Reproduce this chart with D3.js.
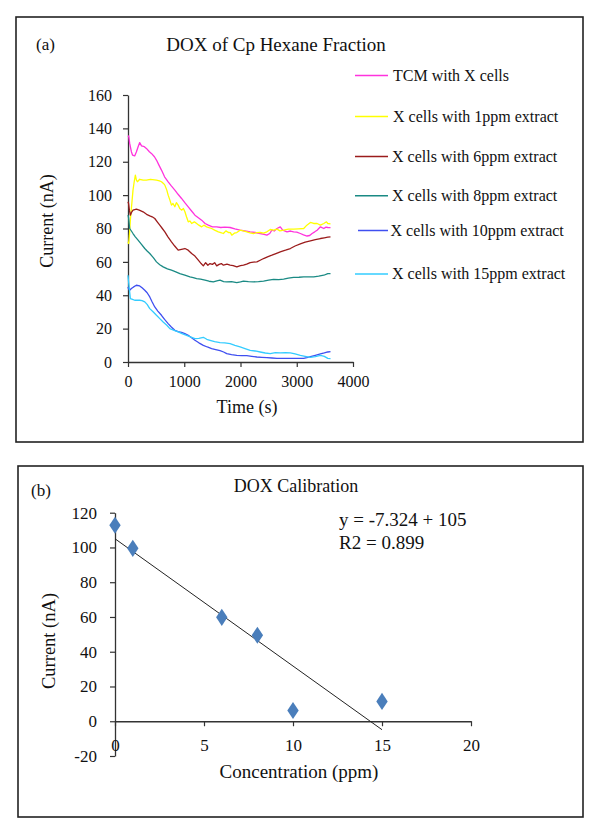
<!DOCTYPE html>
<html>
<head>
<meta charset="utf-8">
<script src="https://cdn.jsdelivr.net/npm/d3@7/dist/d3.min.js"></script>
<style>
  html, body { margin: 0; padding: 0; background: #fff; }
  svg { display: block; font-family: "Liberation Serif", "Times New Roman", serif; }
  svg text { font-family: "Liberation Serif", "Times New Roman", serif; }
</style>
</head>
<body>
<svg id="chart" width="600" height="840"></svg>
<script>
// ---------- Panel (a) data: time (s) and current (nA) ----------
const seriesNames = [
  "TCM with X cells",
  "X cells with 1ppm extract",
  "X cells with 6ppm extract",
  "X cells with 8ppm extract",
  "X cells with 10ppm extract",
  "X cells with 15ppm extract"
];
const seriesColors = ["#ff33dd", "#ffff00", "#9b1c1c", "#1a8a84", "#3f4ff0", "#33ccff"];

const timeTCM = [0, 12, 30, 60, 80, 119, 150, 180, 208, 240, 290, 327, 380, 416, 470, 506, 550, 595, 650, 714, 770, 833, 890, 952, 1010, 1071, 1130, 1190, 1250, 1309, 1370, 1428, 1500, 1577, 1650, 1720, 1815, 1900, 1993, 2080, 2172, 2260, 2350, 2420, 2469, 2520, 2558, 2600, 2648, 2707, 2750, 2826, 2890, 2945, 3000, 3064, 3120, 3183, 3230, 3273, 3320, 3362, 3421, 3481, 3520, 3552, 3600];
const currentTCM = [135, 135.5, 131, 126, 124, 123.5, 126, 129, 131.5, 129.5, 129, 128, 126, 125, 123, 121, 118, 115, 111, 108, 105.5, 103, 100.5, 98, 95.5, 93, 90.5, 88, 86.5, 85, 83, 82, 81, 81, 80.6, 80.8, 80.6, 79.8, 79, 78.5, 78, 77.6, 77, 76.5, 76, 77, 79, 78.5, 80, 81, 79, 78, 78.5, 78, 77.8, 77, 76.2, 75.5, 75.8, 77, 78, 79, 81, 80, 80.8, 80.6, 80.5];

const time1 = [0, 12, 25, 42, 60, 89, 110, 131, 150, 167, 208, 270, 327, 400, 506, 560, 595, 630, 655, 690, 714, 745, 773, 800, 833, 860, 892, 920, 952, 985, 1012, 1040, 1071, 1100, 1131, 1180, 1220, 1260, 1309, 1350, 1398, 1440, 1487, 1540, 1606, 1650, 1696, 1740, 1785, 1820, 1845, 1890, 1934, 1993, 2050, 2112, 2170, 2231, 2290, 2350, 2410, 2469, 2530, 2588, 2650, 2700, 2767, 2850, 2945, 3030, 3124, 3180, 3243, 3300, 3362, 3420, 3481, 3528, 3552, 3600];
const current1 = [72, 71, 76, 85, 92, 103, 108, 112, 109, 108, 109.5, 109, 109, 109.5, 109, 108.5, 108, 107, 106, 103, 100, 97, 94, 95, 93, 95.5, 94, 92, 91, 92, 90, 87, 84, 84.5, 83, 84, 83, 82, 81, 82, 81, 80.5, 80, 79, 78, 77.5, 77, 78.6, 77.6, 77.5, 76, 77.2, 77.6, 79, 78.6, 78, 77.4, 77, 77.5, 77.6, 77.2, 78, 79.4, 79, 79.6, 78.6, 79, 79.6, 79.6, 79.8, 80, 82, 83.6, 83, 83, 82, 83, 84, 83, 82.8];

const time6 = [0, 10, 25, 42, 60, 89, 149, 200, 268, 330, 387, 430, 476, 520, 565, 610, 655, 710, 773, 830, 892, 950, 1012, 1070, 1131, 1190, 1250, 1300, 1339, 1380, 1420, 1458, 1500, 1540, 1577, 1620, 1660, 1696, 1760, 1815, 1870, 1934, 2000, 2053, 2110, 2172, 2230, 2291, 2350, 2410, 2480, 2558, 2630, 2707, 2800, 2886, 2970, 3064, 3150, 3243, 3330, 3421, 3490, 3552, 3600];
const current6 = [96, 95, 91, 88, 89.5, 91, 91.6, 91, 90, 88.5, 87.6, 87, 86, 84, 82, 80, 78, 75, 72, 69.5, 67, 67.5, 68, 67, 65, 63.5, 61, 59, 57.6, 59.5, 58, 59, 58.5, 59.5, 57.6, 58.5, 59, 58, 58.6, 58, 57.8, 57, 57.8, 58, 58.6, 59.6, 59.8, 60, 61, 62, 63, 64, 65, 66, 67, 68, 69.5, 70.8, 71.8, 72.6, 73.4, 74, 74.4, 74.8, 75];

const time8 = [0, 8, 30, 60, 89, 130, 179, 240, 298, 340, 387, 450, 506, 565, 625, 700, 773, 850, 922, 1010, 1101, 1160, 1220, 1290, 1369, 1440, 1517, 1580, 1636, 1700, 1755, 1840, 1934, 2000, 2053, 2140, 2231, 2320, 2410, 2500, 2588, 2680, 2767, 2850, 2945, 3040, 3124, 3210, 3302, 3390, 3481, 3552, 3600];
const current8 = [88, 87, 80, 78.5, 77, 75, 73, 70.5, 68, 66.5, 65, 62.5, 60, 58.3, 57, 55.8, 55, 54, 53, 52, 51, 50.6, 50, 49.6, 49, 48.4, 48, 48.6, 49, 48.2, 48, 48.2, 47.6, 48, 48.5, 48.2, 48, 48.2, 48.5, 49, 49.5, 49.4, 49.7, 50.2, 50.7, 50.8, 51, 51, 51, 51.4, 52, 53, 53];

const time10 = [0, 8, 30, 60, 100, 149, 208, 250, 298, 340, 387, 430, 476, 530, 595, 650, 714, 770, 833, 890, 952, 1010, 1071, 1130, 1190, 1260, 1339, 1410, 1487, 1560, 1636, 1700, 1755, 1840, 1934, 2020, 2112, 2200, 2291, 2380, 2469, 2560, 2648, 2760, 2886, 3000, 3124, 3180, 3243, 3330, 3421, 3490, 3552, 3600];
const current10 = [45, 44, 43, 44, 45, 46, 45.6, 44.5, 43, 41.5, 39, 36, 33, 30.5, 28, 25.5, 23, 21, 19, 18.2, 17.8, 17, 16, 14.5, 13, 11.5, 10, 9, 8, 7.4, 6.8, 6, 5, 4.4, 4, 3.8, 3.8, 3.4, 3, 2.8, 2.6, 2.4, 2.2, 2.2, 2.2, 2.2, 2.2, 2.6, 3.2, 4, 4.8, 5.4, 6, 6.2];

const time15 = [0, 8, 20, 42, 80, 119, 160, 208, 250, 298, 340, 387, 450, 506, 565, 625, 690, 744, 820, 892, 960, 1041, 1110, 1190, 1260, 1339, 1400, 1458, 1540, 1636, 1720, 1815, 1900, 1993, 2080, 2172, 2260, 2350, 2440, 2529, 2620, 2707, 2800, 2886, 2970, 3064, 3150, 3243, 3330, 3421, 3490, 3552, 3600];
const current15 = [52, 49, 45, 38, 37.5, 37, 37, 37, 36.8, 36, 34.5, 32, 30, 28, 26, 24, 22, 20, 19, 18, 17, 16, 15, 14, 14.2, 14.8, 13.6, 13, 12.2, 11.6, 11.4, 11, 10, 9, 8, 7, 6.6, 6, 5.4, 5, 5.6, 5.5, 5.6, 5.5, 4.8, 4, 3.4, 2.8, 3.2, 4, 3.4, 2.2, 2];

const timeSeries = [timeTCM, time1, time6, time8, time10, time15];
const currentSeries = [currentTCM, current1, current6, current8, current10, current15];

const timeTicks = [0, 1000, 2000, 3000, 4000];
const currentTicksA = [0, 20, 40, 60, 80, 100, 120, 140, 160];

// ---------- Panel (b) data ----------
const concentration = [0, 1, 6, 8, 10, 15];
const calibCurrent = [112.8, 99.5, 59.8, 49.5, 6.2, 11.4];
const trendConc = [0, 15];
const trendCurrent = [105, -4.86];
const concTicks = [0, 5, 10, 15, 20];
const currentTicksB = [-20, 0, 20, 40, 60, 80, 100, 120];
const equationLines = ["y = -7.324 + 105", "R2 = 0.899"];

// ---------- Drawing ----------
const svg = d3.select("#chart");
svg.append("rect").attr("x", 0).attr("y", 0).attr("width", 600).attr("height", 840).attr("fill", "#fff");

const axisColor = "#333";
const textColor = "#111";
const serif = "'Liberation Serif', 'Times New Roman', serif";
const plainFormat = d => String(d);

function styleAxis(g, fontSize) {
  g.attr("font-family", serif).attr("font-size", fontSize);
  g.select(".domain").attr("stroke", axisColor).attr("stroke-width", 1.3);
  g.selectAll(".tick line").attr("stroke", axisColor).attr("stroke-width", 1.2);
  g.selectAll(".tick text").attr("fill", textColor)
    .style("font-family", serif).style("font-size", fontSize + "px");
}

// ----- Panel (a) -----
svg.append("rect").attr("x", 16).attr("y", 17).attr("width", 567).attr("height", 425)
  .attr("fill", "none").attr("stroke", "#222").attr("stroke-width", 1.6);

const xA = d3.scaleLinear().domain([0, 4000]).range([128, 353]);
const yA = d3.scaleLinear().domain([0, 160]).range([362, 95]);

const gxA = svg.append("g").attr("transform", `translate(0,${yA(0)})`)
  .call(d3.axisBottom(xA).tickValues(timeTicks).tickSize(5).tickSizeOuter(0).tickFormat(plainFormat));
styleAxis(gxA, 16);
gxA.selectAll(".tick text").attr("y", 14);

const gyA = svg.append("g").attr("transform", `translate(${xA(0)},0)`)
  .call(d3.axisLeft(yA).tickValues(currentTicksA).tickSize(5).tickSizeOuter(0).tickFormat(plainFormat));
styleAxis(gyA, 16);
gyA.selectAll(".tick text").attr("x", -16);

const lineA = d3.line().x(d => xA(d[0])).y(d => yA(d[1]));
timeSeries.forEach((ts, i) => {
  const pts = ts.map((t, j) => [t, currentSeries[i][j]]);
  svg.append("path").datum(pts).attr("d", lineA)
    .attr("fill", "none").attr("stroke", seriesColors[i]).attr("stroke-width", 1.3)
    .attr("stroke-linejoin", "round");
});

svg.append("text").attr("x", 36).attr("y", 50).attr("font-size", 17).attr("fill", textColor).text("(a)");
svg.append("text").attr("x", 276).attr("y", 51).attr("text-anchor", "middle").attr("font-size", 19)
  .attr("fill", textColor).text("DOX of Cp Hexane Fraction");
svg.append("text").attr("transform", "translate(53,221) rotate(-90)").attr("text-anchor", "middle")
  .attr("font-size", 18).attr("fill", textColor).text("Current (nA)");
svg.append("text").attr("x", 247).attr("y", 413).attr("text-anchor", "middle").attr("font-size", 18)
  .attr("fill", textColor).text("Time (s)");

// legend
const legendRowsY = [75.5, 116.5, 156.5, 195.8, 230.5, 274];
const legendLineX0 = [355, 355, 355, 355, 358, 355];
const legendTextX = [393, 393, 392, 392, 390.5, 392];
seriesNames.forEach((name, i) => {
  svg.append("line").attr("x1", legendLineX0[i]).attr("x2", 388)
    .attr("y1", legendRowsY[i]).attr("y2", legendRowsY[i])
    .attr("stroke", seriesColors[i]).attr("stroke-width", 1.5);
  svg.append("text").attr("x", legendTextX[i]).attr("y", legendRowsY[i] + 5)
    .attr("font-size", 16).attr("fill", textColor).text(name);
});

// ----- Panel (b) -----
svg.append("rect").attr("x", 18).attr("y", 466).attr("width", 565).attr("height", 351)
  .attr("fill", "none").attr("stroke", "#222").attr("stroke-width", 1.6);

const xB = d3.scaleLinear().domain([0, 20]).range([115, 471]);
const yB = d3.scaleLinear().domain([-20, 120]).range([756, 512.7]);

const gyB = svg.append("g").attr("transform", `translate(${xB(0)},0)`)
  .call(d3.axisLeft(yB).tickValues(currentTicksB).tickSize(5).tickSizeOuter(0).tickFormat(plainFormat));
styleAxis(gyB, 17);
gyB.selectAll(".tick text").attr("x", -18);

const gxB = svg.append("g").attr("transform", `translate(0,${yB(0)})`)
  .call(d3.axisBottom(xB).tickValues(concTicks).tickSize(5).tickSizeOuter(0).tickFormat(plainFormat));
styleAxis(gxB, 17);
gxB.selectAll(".tick text").attr("y", 18);

svg.append("path")
  .datum(trendConc.map((c, j) => [c, trendCurrent[j]]))
  .attr("d", d3.line().x(d => xB(d[0])).y(d => yB(d[1])))
  .attr("fill", "none").attr("stroke", "#222").attr("stroke-width", 1);

const diamond = d3.symbol().type(d3.symbolDiamond).size(85);
svg.append("g").selectAll("path").data(concentration).join("path")
  .attr("transform", (c, j) => `translate(${xB(c)},${yB(calibCurrent[j])}) scale(1.15,1)`)
  .attr("d", diamond).attr("fill", "#4a7ebb");

svg.append("text").attr("x", 31).attr("y", 496).attr("font-size", 17).attr("fill", textColor).text("(b)");
svg.append("text").attr("x", 296).attr("y", 492).attr("text-anchor", "middle").attr("font-size", 18)
  .attr("fill", textColor).text("DOX Calibration");
svg.append("text").attr("transform", "translate(55,641) rotate(-90)").attr("text-anchor", "middle")
  .attr("font-size", 18.5).attr("fill", textColor).text("Current (nA)");
svg.append("text").attr("x", 299).attr("y", 778).attr("text-anchor", "middle").attr("font-size", 19)
  .attr("fill", textColor).text("Concentration (ppm)");
equationLines.forEach((t, i) => {
  svg.append("text").attr("x", 339).attr("y", 526 + i * 23).attr("font-size", 19)
    .attr("fill", textColor).text(t);
});
</script>
</body>
</html>
